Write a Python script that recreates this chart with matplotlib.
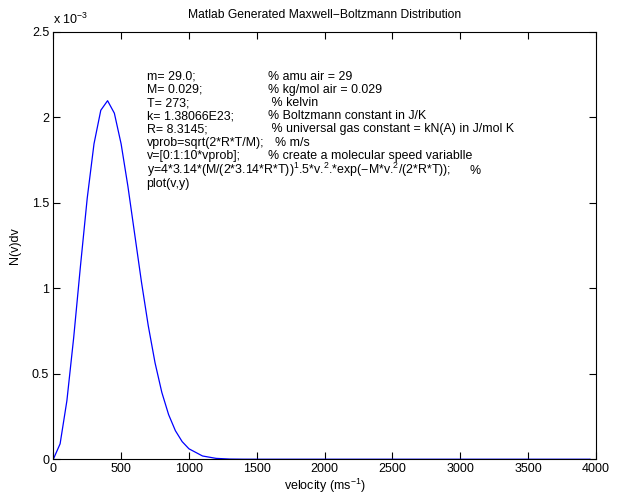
import matplotlib
matplotlib.use('Agg')
import matplotlib.pyplot as plt
from matplotlib.ticker import FormatStrFormatter

plt.rcParams['font.family'] = ['Liberation Sans', 'DejaVu Sans']
plt.rcParams['mathtext.fontset'] = 'custom'
plt.rcParams['mathtext.rm'] = 'Liberation Sans'
plt.rcParams['mathtext.it'] = 'Liberation Sans'
plt.rcParams['mathtext.default'] = 'regular'

# speed (m/s) and N(v)dv (in units of 1e-3)
velocity = [0, 50, 100, 150, 200, 250, 300, 350, 400, 450, 500, 550, 600, 650,
            700, 750, 800, 850, 900, 950, 1000, 1100, 1200, 1300, 1400, 1500, 3957]
density = [0, 0.090, 0.342, 0.710, 1.129, 1.527, 1.845, 2.041, 2.097, 2.024,
           1.844, 1.596, 1.316, 1.036, 0.781, 0.564, 0.391, 0.261, 0.167, 0.103,
           0.061, 0.019, 0.005, 0.001, 0.0002, 0, 0]

code_lines = ['m= 29.0;', 'M= 0.029;', 'T= 273;', 'k= 1.38066E23;', 'R= 8.3145;',
              'vprob=sqrt(2*R*T/M);', 'v=[0:1:10*vprob];',
              'y=4*3.14*(M/(2*3.14*R*T))$^{1}$.5*v.$^{2}$.*exp(\u2212M*v.$^{2}$/(2*R*T));',
              'plot(v,y)']
comments = ['% amu air = 29', '% kg/mol air = 0.029', ' % kelvin',
            '% Boltzmann constant in J/K',
            ' % universal gas constant = kN(A) in J/mol K', '  % m/s',
            '% create a molecular speed variablle', '%', '']

fig = plt.figure(figsize=(6.2, 4.97), dpi=100)
ax = fig.add_axes([0.086, 0.076, 0.875, 0.860])

ax.plot(velocity, density, color='#0000ff', linewidth=0.9)

ax.set_xlim(0, 4000)
ax.set_ylim(0, 2.5)
ax.set_xticks(range(0, 4001, 500))
ax.set_yticks([0, 0.5, 1, 1.5, 2, 2.5])
ax.yaxis.set_major_formatter(FormatStrFormatter('%g'))
ax.tick_params(direction='in', length=5, width=0.8, top=True, right=True,
               labelsize=9, pad=3)
for s in ax.spines.values():
    s.set_linewidth(0.8)

ax.set_title('Matlab Generated Maxwell\u2212Boltzmann Distribution', fontsize=8.7, pad=10)
ax.set_xlabel('velocity (ms$^{\u22121}$)', fontsize=9, labelpad=1)
ax.set_ylabel('N(v)dv', fontsize=9, labelpad=8)
ax.text(0.0, 1.012, 'x 10$^{\u22123}$', transform=ax.transAxes, fontsize=9,
        va='bottom', ha='left')

step = 13.2 / 427.6
y0 = 0.888
for i, (code, com) in enumerate(zip(code_lines, comments)):
    yy = y0 - i * step
    if i >= 7:
        yy -= 1.5 / 427.6  # the superscripted line sits a little lower
    ax.text(0.172, yy, code, transform=ax.transAxes, fontsize=8.9, va='baseline')
    if com == '%':
        ax.text(0.768, yy, com, transform=ax.transAxes, fontsize=8.9, va='baseline')
    elif com:
        ax.text(0.396, yy, com, transform=ax.transAxes, fontsize=8.9, va='baseline')

fig.savefig('out.png', dpi=100)
